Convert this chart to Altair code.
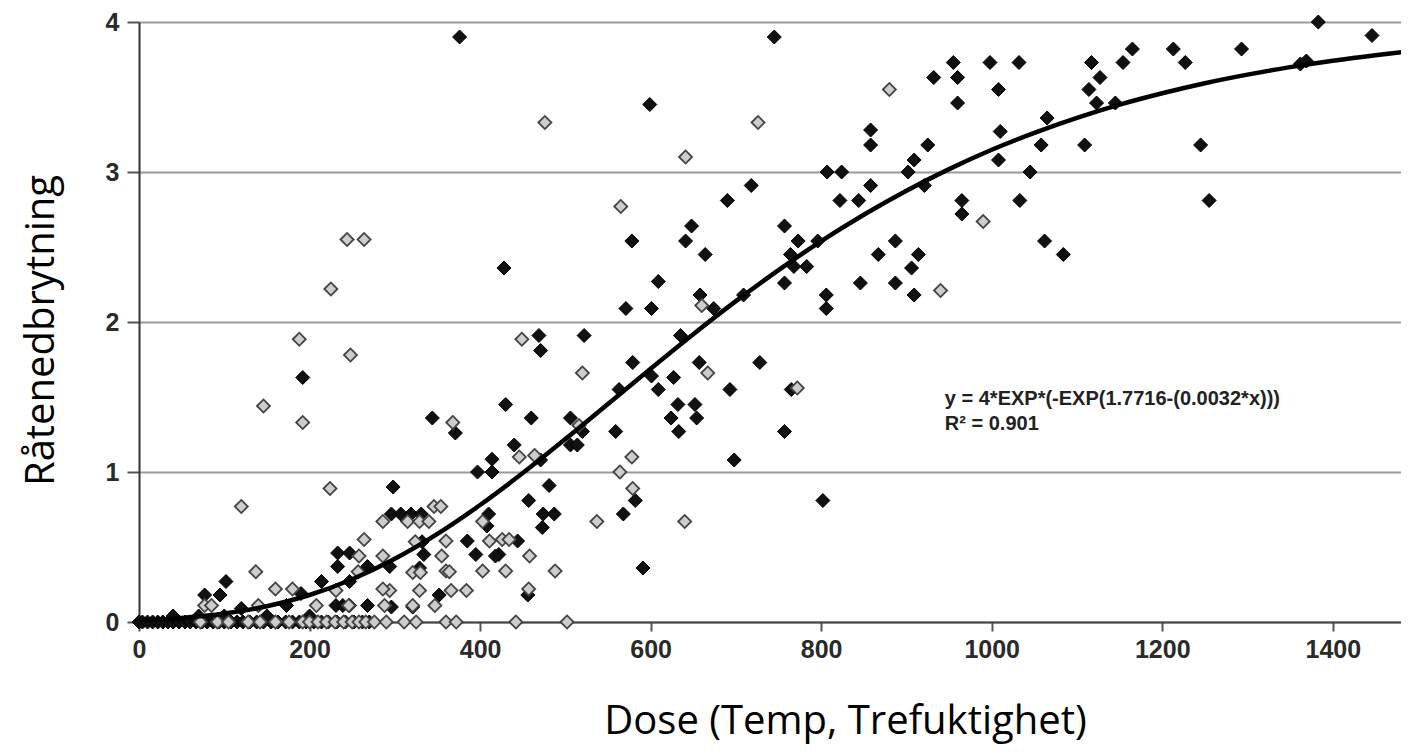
import altair as alt
import pandas as pd

# ---- data ----
black_x = [376, 428, 599, 745, 578, 648, 641, 664, 690, 718, 609, 571, 601, 658, 674, 709,
           757, 773, 796, 764, 768, 783, 757, 806, 806,
           807, 824, 822, 844, 858, 858, 858, 925, 909, 902, 921,
           867, 887, 914, 906, 846, 887, 909,
           932, 955, 960, 960, 998, 1032, 1008, 1010, 1065, 1058, 1008, 1045,
           965, 965, 1033, 1062, 1084,
           1117, 1127, 1114, 1123, 1145, 1109, 1154, 1165, 1213, 1227, 1245, 1255, 1293, 1362, 1369, 1383, 1446,
           469, 471, 522, 635, 579, 657, 728, 627, 601, 609, 563, 693, 765,
           430, 460, 506, 520, 559, 632, 652, 624, 654, 633, 757,
           440, 506, 514, 471, 698, 582, 568, 481, 457, 474, 487, 473, 802,
           444, 422, 591, 456,
           192, 344, 371, 397, 414, 414, 298, 296, 307, 319, 331, 410, 408,
           332, 294, 329, 385, 395, 418, 352, 321, 296, 334,
           233, 247, 268, 233, 214, 247, 190, 102, 95, 77, 120, 173, 231, 239, 247, 268,
           0, 4, 10, 16, 22, 28, 34, 40, 47, 54, 60, 67, 74, 80, 87, 94, 100, 108, 115, 122,
           130, 138, 146, 155, 163, 172, 180, 188, 196, 205, 214, 222, 232, 242, 252, 262, 270,
           40, 70, 100, 150, 200]
black_y = [3.90, 2.36, 3.45, 3.90, 2.54, 2.64, 2.54, 2.45, 2.81, 2.91, 2.27, 2.09, 2.09, 2.18, 2.09, 2.18,
           2.64, 2.54, 2.54, 2.45, 2.37, 2.37, 2.26, 2.18, 2.09,
           3.00, 3.00, 2.81, 2.81, 2.91, 3.28, 3.18, 3.18, 3.08, 3.00, 2.91,
           2.45, 2.54, 2.45, 2.36, 2.26, 2.26, 2.18,
           3.63, 3.73, 3.63, 3.46, 3.73, 3.73, 3.55, 3.27, 3.36, 3.18, 3.08, 3.00,
           2.81, 2.72, 2.81, 2.54, 2.45,
           3.73, 3.63, 3.55, 3.46, 3.46, 3.18, 3.73, 3.82, 3.82, 3.73, 3.18, 2.81, 3.82, 3.72, 3.74, 4.00, 3.91,
           1.91, 1.81, 1.91, 1.91, 1.73, 1.73, 1.73, 1.63, 1.64, 1.55, 1.55, 1.55, 1.55,
           1.45, 1.36, 1.36, 1.27, 1.27, 1.45, 1.45, 1.36, 1.36, 1.27, 1.27,
           1.18, 1.18, 1.18, 1.08, 1.08, 0.81, 0.72, 0.91, 0.81, 0.72, 0.72, 0.63, 0.81,
           0.54, 0.45, 0.36, 0.18,
           1.63, 1.36, 1.26, 1.00, 1.00, 1.085, 0.90, 0.72, 0.72, 0.72, 0.72, 0.72, 0.64,
           0.535, 0.37, 0.36, 0.54, 0.45, 0.44, 0.18, 0.10, 0.10, 0.45,
           0.46, 0.46, 0.37, 0.37, 0.27, 0.27, 0.19, 0.27, 0.18, 0.18, 0.09, 0.11, 0.11, 0.11, 0.11, 0.11,
           0, 0, 0, 0, 0, 0, 0, 0, 0, 0, 0, 0, 0, 0, 0, 0, 0, 0, 0, 0,
           0, 0, 0, 0, 0, 0, 0, 0, 0, 0, 0, 0, 0, 0, 0, 0, 0,
           0.04, 0.04, 0.04, 0.04, 0.04]

gray_x = [244, 264, 225, 476, 726, 641, 880, 565, 660, 940, 990,
          449, 520, 667, 772, 516, 446, 464, 578, 564, 579, 537, 640,
          426, 434, 458, 430, 488, 457, 442, 502,
          346, 354, 286, 315, 329, 340, 403, 324, 360, 411,
          355, 403, 360, 329, 366, 384, 294, 347,
          188, 248, 146, 192, 368, 224, 120, 264, 258, 286, 257, 321, 330, 364,
          137, 160, 180, 231, 77, 85, 140, 208, 288, 321, 286, 246,
          72, 92, 105, 128, 142, 160, 176, 192, 200, 210, 220, 230, 240, 250, 258, 266, 276,
          290, 311, 325, 360, 372]
gray_y = [2.55, 2.55, 2.22, 3.33, 3.33, 3.10, 3.55, 2.77, 2.11, 2.21, 2.67,
          1.885, 1.66, 1.66, 1.56, 1.31, 1.10, 1.11, 1.10, 1.00, 0.89, 0.67, 0.67,
          0.55, 0.55, 0.44, 0.34, 0.34, 0.22, 0.0, 0.0,
          0.77, 0.77, 0.67, 0.67, 0.67, 0.67, 0.67, 0.535, 0.54, 0.54,
          0.44, 0.34, 0.34, 0.21, 0.21, 0.21, 0.21, 0.11,
          1.885, 1.78, 1.44, 1.33, 1.33, 0.89, 0.77, 0.55, 0.44, 0.44, 0.335, 0.33, 0.33, 0.335,
          0.335, 0.22, 0.22, 0.21, 0.11, 0.11, 0.11, 0.11, 0.11, 0.11, 0.22, 0.11,
          0, 0, 0, 0, 0, 0, 0, 0, 0, 0, 0, 0, 0, 0, 0, 0, 0,
          0, 0, 0, 0, 0]

curve_x = [0, 50, 100, 150, 200, 250, 300, 350, 400, 450, 500, 550, 600, 650, 700, 750,
           800, 850, 900, 950, 1000, 1050, 1100, 1150, 1200, 1250, 1300, 1350, 1400, 1450, 1500]
curve_y = [0.011, 0.027, 0.056, 0.105, 0.180, 0.285, 0.421, 0.587, 0.780, 0.993, 1.220, 1.454,
           1.689, 1.919, 2.139, 2.346, 2.539, 2.715, 2.875, 3.019, 3.148, 3.261, 3.361, 3.449,
           3.525, 3.592, 3.649, 3.699, 3.742, 3.779, 3.811]

x_ticks = [0, 200, 400, 600, 800, 1000, 1200, 1400]
y_ticks = [0, 1, 2, 3, 4]

note_text = "y = 4*EXP*(-EXP(1.7716-(0.0032*x)))\nR\u00b2 = 0.901"
note_x = [945]
note_y = [1.45]

x_title = "Dose (Temp, Trefuktighet)"
y_title = "R\u00e5tenedbrytning"

# ---- tables ----
black_df = pd.DataFrame({"x": black_x, "y": black_y})
gray_df = pd.DataFrame({"x": gray_x, "y": gray_y})
curve_df = pd.DataFrame({"x": curve_x, "y": curve_y})
note_df = pd.DataFrame({"x": note_x, "y": note_y, "t": [note_text]})

xscale = alt.Scale(domain=[0, 1480], nice=False, zero=False)
yscale = alt.Scale(domain=[0, 4], nice=False)

xaxis = alt.Axis(values=x_ticks, title=x_title, grid=False, format="d",
                 titleFont="Open Sans", titleFontSize=40, titleFontWeight="normal", titleColor="#000",
                 titleX=706, titleY=111, titleAlign="center", titleBaseline="alphabetic",
                 labelFont="Liberation Sans", labelFontSize=25, labelFontWeight="bold", labelColor="#2a2a2a",
                 labelPadding=6, labelFlush=False,
                 tickSize=9, tickWidth=2, tickColor="#555555",
                 domainColor="#444444", domainWidth=2)
yaxis = alt.Axis(values=y_ticks, title=y_title, grid=True, gridColor="#9a9a9a", gridWidth=2,
                 titleFont="Open Sans", titleFontSize=40, titleFontWeight="normal", titleColor="#000",
                 titleX=-86, titleY=308, titleAngle=270, titleAlign="center", titleBaseline="alphabetic",
                 labelFont="Liberation Sans", labelFontSize=25, labelFontWeight="bold", labelColor="#2a2a2a",
                 labelPadding=8, format="d",
                 tickSize=12, tickWidth=2, tickColor="#555555",
                 domainColor="#333333", domainWidth=2)

black = alt.Chart(black_df).mark_point(
    shape="diamond", filled=True, fill="#111111", stroke="#000000", strokeWidth=1,
    size=196, opacity=1
).encode(x=alt.X("x:Q", scale=xscale, axis=xaxis), y=alt.Y("y:Q", scale=yscale, axis=yaxis))

gray = alt.Chart(gray_df).mark_point(
    shape="diamond", filled=True, fill="#cdcdcd", stroke="#444444", strokeWidth=1.8,
    size=170, opacity=1
).encode(x=alt.X("x:Q", scale=xscale), y=alt.Y("y:Q", scale=yscale))

curve = alt.Chart(curve_df).mark_line(
    color="#000000", strokeWidth=4.5, interpolate="monotone", clip=True
).encode(x=alt.X("x:Q", scale=xscale), y=alt.Y("y:Q", scale=yscale))

note = alt.Chart(note_df).mark_text(
    align="left", baseline="alphabetic", font="Liberation Sans", fontSize=20, fontWeight="bold",
    color="#222222", lineBreak="\n", lineHeight=25
).encode(x=alt.X("x:Q", scale=xscale), y=alt.Y("y:Q", scale=yscale), text="t:N")

chart = alt.layer(black, gray, curve, note).properties(
    width=1262, height=600,
    autosize=alt.AutoSizeParams(type="none"),
    padding={"left": 131, "top": 14, "right": 0, "bottom": 126},
    background="#ffffff"
).configure_view(stroke=None)

chart.save("out.html", embed_options={"renderer": "svg", "actions": False})
